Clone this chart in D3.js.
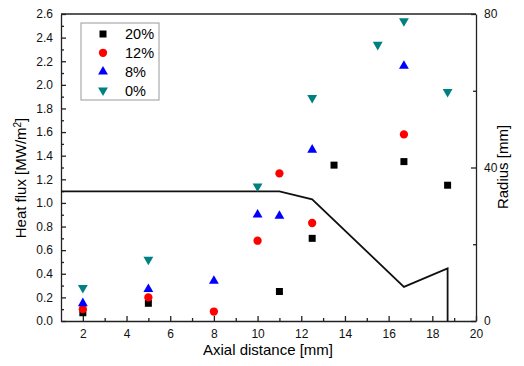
<!DOCTYPE html>
<meta charset="utf-8">
<style>
  body { margin: 0; background: #fff; }
  svg { font-family: "Liberation Sans", Arial, sans-serif; }
  .axis path, .axis line { stroke: #222; stroke-width: 1.3; }
  .axis text { font-size: 12px; fill: #111; }
  .minor path { display: none; }
</style>
<svg width="524" height="366"></svg>
<script src="https://d3js.org/d3.v7.min.js"></script>
<script>

// heat flux [MW/m2] vs axial distance [mm]
var x20 = [2, 5, 11, 12.5, 13.5, 16.7, 18.7],
    y20 = [0.07, 0.15, 0.25, 0.70, 1.32, 1.35, 1.15];
var x12 = [2, 5, 8, 10, 11, 12.5, 16.7],
    y12 = [0.10, 0.20, 0.08, 0.68, 1.25, 0.83, 1.58];
var x8 = [2, 5, 8, 10, 11, 12.5, 16.7],
    y8 = [0.15, 0.27, 0.34, 0.90, 0.89, 1.45, 2.16];
var x0 = [2, 5, 10, 12.5, 15.5, 16.7, 18.7],
    y0 = [0.28, 0.52, 1.14, 1.89, 2.34, 2.54, 1.94];

// nozzle radius profile [mm]
var profileX = [1, 11, 12.5, 16.7, 18.7, 18.7],
    profileR = [33.8, 33.8, 31.7, 8.9, 13.7, 0];

var seriesNames = ["20%", "12%", "8%", "0%"];
var xTicks = [2, 4, 6, 8, 10, 12, 14, 16, 18, 20];
var yTicks = d3.range(0, 2.61, 0.2);
var rTicks = [0, 40, 80];

var svg = d3.select("svg"),
    margin = {top: 14, right: 48, bottom: 45, left: 61},
    width = +svg.attr("width") - margin.left - margin.right,
    height = +svg.attr("height") - margin.top - margin.bottom;

var x = d3.scaleLinear().domain([1, 20]).range([0, width]),
    y = d3.scaleLinear().domain([0, 2.6]).range([height, 0]),
    r = d3.scaleLinear().domain([0, 80]).range([height, 0]);

var g = svg.append("g")
    .attr("transform", "translate(" + margin.left + "," + margin.top + ")");

// minor ticks
g.append("g")
    .attr("class", "axis minor")
    .attr("transform", "translate(0," + height + ")")
    .call(d3.axisBottom(x).tickValues(d3.range(3, 20, 2)).tickSize(-3).tickFormat(""));
g.append("g")
    .attr("class", "axis minor")
    .call(d3.axisLeft(y).tickValues(d3.range(0.1, 2.6, 0.2)).tickSize(-3).tickFormat(""));
g.append("g")
    .attr("class", "axis minor")
    .attr("transform", "translate(" + width + ",0)")
    .call(d3.axisRight(r).tickValues([20, 60]).tickSize(-3).tickFormat(""));

// major axes
g.append("g")
    .attr("class", "axis")
    .attr("transform", "translate(0," + height + ")")
    .call(d3.axisBottom(x).tickValues(xTicks).tickSize(-5).tickSizeOuter(0).tickPadding(8));
g.append("g")
    .attr("class", "axis")
    .call(d3.axisLeft(y).tickValues(yTicks).tickSize(-5).tickSizeOuter(0).tickPadding(8)
      .tickFormat(d3.format(".1f")));
g.append("g")
    .attr("class", "axis")
    .attr("transform", "translate(" + width + ",0)")
    .call(d3.axisRight(r).tickValues(rTicks).tickSize(-5).tickSizeOuter(0).tickPadding(8));

// top frame line
g.append("line")
    .attr("x1", 0).attr("x2", width)
    .attr("y1", 0).attr("y2", 0)
    .attr("stroke", "#222").attr("stroke-width", 1.3);

// radius profile
var line = d3.line()
    .x(function(d) { return x(d[0]); })
    .y(function(d) { return r(d[1]); });
g.append("path")
    .datum(d3.zip(profileX, profileR))
    .attr("fill", "none")
    .attr("stroke", "#111")
    .attr("stroke-width", 1.8)
    .attr("d", line);

var series = [
  {name: seriesNames[0], xs: x20, ys: y20, color: "#000000", shape: d3.symbolSquare, size: 49, rot: 0},
  {name: seriesNames[1], xs: x12, ys: y12, color: "#ff0000", shape: d3.symbolCircle, size: 54, rot: 0},
  {name: seriesNames[2], xs: x8, ys: y8, color: "#0000ff", shape: d3.symbolTriangle, size: 42, rot: 0},
  {name: seriesNames[3], xs: x0, ys: y0, color: "#008080", shape: d3.symbolTriangle, size: 42, rot: 180}
];

series.forEach(function(s) {
  g.selectAll(null)
    .data(d3.zip(s.xs, s.ys))
    .enter()
    .append("path")
      .attr("d", d3.symbol().type(s.shape).size(s.size))
      .attr("fill", s.color)
      .attr("transform", function(d) {
        return "translate(" + x(d[0]) + "," + y(d[1]) + ") rotate(" + s.rot + ")";
      });
});

// legend
var legend = svg.append("g").attr("transform", "translate(81,23)");
legend.append("rect")
    .attr("width", 78).attr("height", 77)
    .attr("fill", "#fff")
    .attr("stroke", "#999").attr("stroke-width", 1);
series.forEach(function(s, i) {
  var row = legend.append("g").attr("transform", "translate(0," + (11 + i * 18.8) + ")");
  row.append("path")
      .attr("d", d3.symbol().type(s.shape).size(s.size))
      .attr("fill", s.color)
      .attr("transform", "translate(22,0) rotate(" + s.rot + ")");
  row.append("text")
      .attr("x", 44).attr("dy", "0.36em")
      .style("font-size", "14.5px")
      .text(s.name);
});

// axis titles
svg.append("text")
    .attr("x", 268)
    .attr("y", 354.5)
    .attr("text-anchor", "middle")
    .style("font-size", "15px")
    .text("Axial distance [mm]");

var yt = svg.append("text")
    .attr("transform", "translate(26,178) rotate(-90)")
    .attr("text-anchor", "middle")
    .style("font-size", "15px");
yt.append("tspan").text("Heat flux [MW/m");
yt.append("tspan").attr("baseline-shift", "super").style("font-size", "10px").text("2");
yt.append("tspan").text("]");

svg.append("text")
    .attr("transform", "translate(508,167) rotate(-90)")
    .attr("text-anchor", "middle")
    .style("font-size", "15px")
    .text("Radius [mm]");

</script>
